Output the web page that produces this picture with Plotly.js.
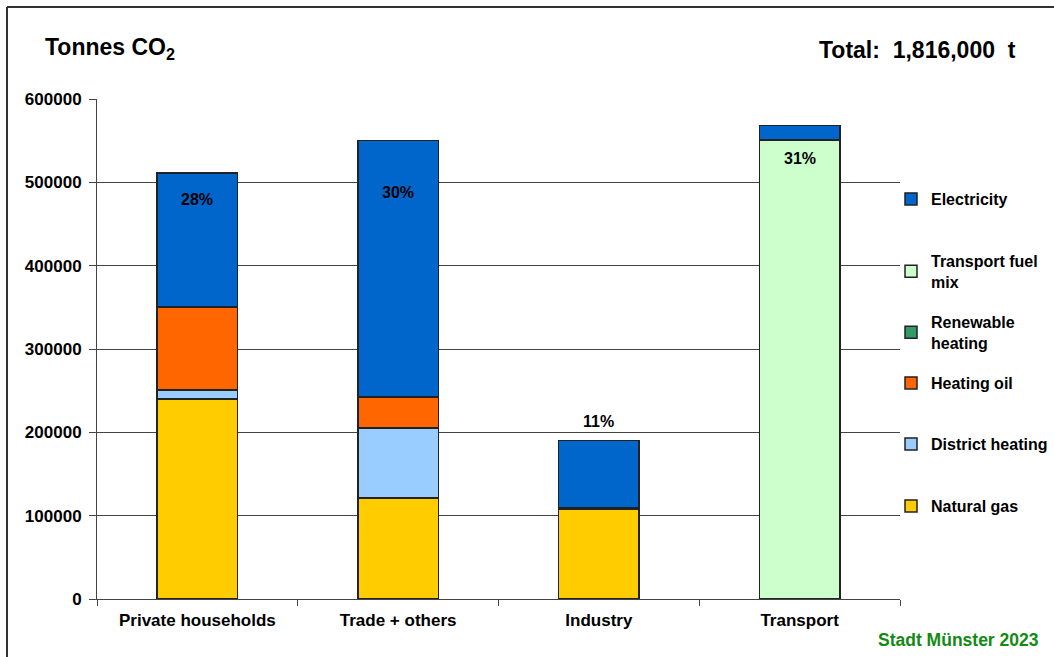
<!DOCTYPE html>
<html>
<head>
<meta charset="utf-8">
<script src="https://cdn.plot.ly/plotly-3.0.1.min.js"></script>
<style>
html,body{margin:0;padding:0;background:#fff;}
#chart{width:1054px;height:657px;}
</style>
</head>
<body>
<div id="chart"></div>
<script>
// ---- data ----
const categories = ['Private households', 'Trade + others', 'Industry', 'Transport'];
const naturalGas = [240000, 121000, 108000, null];
const districtHeating = [11000, 84000, null, null];
const heatingOil = [99000, 37000, 1500, null];
const renewableHeating = [1000, 1000, null, null];
const transportFuelMix = [null, null, null, 551000];
const electricity = [160000, 307000, 81000, 17000];
const pctLabels = ['28%', '30%', '11%', '31%'];
const pctLabelY = [480000, 488400, 213600, 529200];
const yTickVals = [0, 100000, 200000, 300000, 400000, 500000, 600000];

// ---- layout helpers (pixel -> paper) ----
const W = 1054, H = 657;
const L = 97, R = 154, T = 99, B = 58;
const PW = W - L - R, PH = H - T - B;
const px = x => (x - L) / PW;
const py = y => (H - B - y) / PH;

const FONT = '"Liberation Sans", Arial, sans-serif';
const lineCol = '#222';

const series = [
  {name: 'Natural gas', y: naturalGas, color: '#FFCC00', ly: 506},
  {name: 'District heating', y: districtHeating, color: '#99CCFF', ly: 444},
  {name: 'Heating oil', y: heatingOil, color: '#FF6600', ly: 383},
  {name: 'Renewable<br>heating', y: renewableHeating, color: '#339966', ly: 322},
  {name: 'Transport fuel<br>mix', y: transportFuelMix, color: '#CCFFCC', ly: 261},
  {name: 'Electricity', y: electricity, color: '#0066CC', ly: 199}
];

const traces = series.map((s, i) => ({
  type: 'bar',
  name: s.name,
  x: categories,
  y: s.y,
  marker: {color: s.color, line: {color: lineCol, width: 1.5}},
  legend: i === 0 ? 'legend' : 'legend' + (i + 1),
  hoverinfo: 'x+y+name'
}));

const layout = {
  width: W, height: H,
  margin: {l: L, r: R, t: T, b: B, autoexpand: false},
  paper_bgcolor: '#fff', plot_bgcolor: '#fff',
  barmode: 'stack',
  bargap: 0.6,
  font: {family: FONT, size: 16, color: '#000', weight: 'bold'},
  title: {
    text: 'Tonnes CO<sub>2</sub>',
    font: {family: FONT, size: 23, color: '#000', weight: 'bold'},
    xref: 'container', yref: 'container',
    x: 45 / W, xanchor: 'left',
    y: 1 - 47 / H, yanchor: 'middle'
  },
  xaxis: {
    type: 'category',
    showline: true, linecolor: '#444', linewidth: 1,
    ticks: 'outside', tickson: 'boundaries', ticklen: 6, tickcolor: '#444',
    ticklabelstandoff: 6,
    showgrid: false,
    tickfont: {family: FONT, size: 17, color: '#000', weight: 'bold'},
    fixedrange: true
  },
  yaxis: {
    range: [0, 600000],
    tickvals: yTickVals,
    tickformat: 'd',
    showline: true, linecolor: '#444', linewidth: 1,
    ticks: 'outside', ticklen: 7, tickcolor: '#444',
    ticklabelstandoff: 4,
    showgrid: true, gridcolor: '#444', gridwidth: 1,
    zeroline: false,
    tickfont: {family: FONT, size: 17, color: '#000', weight: 'bold'},
    fixedrange: true
  },
  annotations: [
    {
      text: 'Total:&nbsp; 1,816,000&nbsp; t',
      xref: 'paper', yref: 'paper',
      x: px(1018), y: py(50), xanchor: 'right', yanchor: 'middle',
      showarrow: false,
      font: {family: FONT, size: 23, color: '#000', weight: 'bold'}
    },
    {
      text: 'Stadt Münster 2023',
      xref: 'paper', yref: 'paper',
      x: px(1041), y: py(640), xanchor: 'right', yanchor: 'middle',
      showarrow: false,
      font: {family: FONT, size: 17.5, color: '#138A13', weight: 'bold'}
    }
  ].concat(pctLabels.map((t, i) => ({
    text: t, x: categories[i], y: pctLabelY[i], xref: 'x', yref: 'y',
    showarrow: false, xanchor: 'center', yanchor: 'middle',
    font: {family: FONT, size: 16, color: '#000', weight: 'bold'}
  }))),
  shapes: [
    {type: 'line', xref: 'paper', yref: 'paper', x0: px(7), x1: px(7), y0: py(700), y1: py(7),
     line: {color: '#333', width: 2}},
    {type: 'line', xref: 'paper', yref: 'paper', x0: px(7), x1: px(1100), y0: py(7), y1: py(7),
     line: {color: '#333', width: 2}}
  ],
  showlegend: true
};

series.forEach((s, i) => {
  const key = i === 0 ? 'legend' : 'legend' + (i + 1);
  layout[key] = {
    x: px(891), xanchor: 'left',
    y: py(s.ly - 17), yanchor: 'top',
    bgcolor: 'rgba(0,0,0,0)',
    borderwidth: 0,
    font: {family: FONT, size: 16, color: '#000', weight: 'bold'},
    itemwidth: 30,
    itemclick: false, itemdoubleclick: false
  };
});

Plotly.newPlot('chart', traces, layout, {displayModeBar: false, staticPlot: true});
</script>
</body>
</html>
